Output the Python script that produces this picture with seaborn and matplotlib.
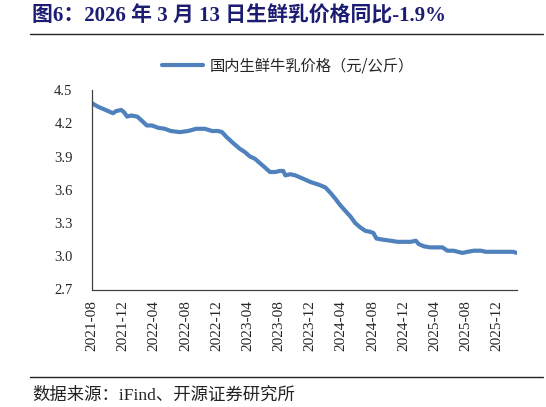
import matplotlib
matplotlib.use("Agg")
import matplotlib.pyplot as plt
import matplotlib.dates as mdates
from matplotlib.lines import Line2D
import seaborn as sns
import pandas as pd

# ---- data ----
dates = ["2021-08-01","2021-08-24","2021-09-13","2021-10-03","2021-10-22","2021-11-03","2021-11-23","2021-12-04","2021-12-16",
         "2022-01-01","2022-01-25","2022-02-13","2022-03-03","2022-03-23","2022-04-15","2022-05-12","2022-06-05","2022-07-10",
         "2022-08-11","2022-09-12","2022-10-16","2022-11-13","2022-12-07","2022-12-22",
         "2023-01-11","2023-02-04","2023-03-01","2023-03-21","2023-04-10","2023-04-29","2023-05-19","2023-06-08","2023-06-27",
         "2023-07-17","2023-08-06","2023-08-18","2023-08-26","2023-09-15","2023-10-04","2023-10-24","2023-11-13","2023-12-02","2023-12-29",
         "2024-01-10","2024-01-30","2024-02-19","2024-03-08","2024-03-28","2024-04-16","2024-05-06","2024-05-25","2024-06-14",
         "2024-07-03","2024-07-23","2024-08-04","2024-08-16","2024-09-09","2024-10-10","2024-11-07","2024-12-01","2024-12-28",
         "2025-01-17","2025-01-28","2025-02-17","2025-03-14","2025-04-11","2025-05-01","2025-05-20","2025-06-13","2025-07-18",
         "2025-08-07","2025-08-31","2025-09-28","2025-10-17","2025-11-13","2025-12-14",
         "2026-01-07","2026-01-31","2026-02-16"]
prices = [4.38,4.35,4.33,4.31,4.29,4.31,4.32,4.30,4.26,
          4.27,4.26,4.22,4.18,4.18,4.16,4.15,4.13,4.12,
          4.13,4.15,4.15,4.13,4.13,4.12,
          4.07,4.02,3.97,3.94,3.90,3.88,3.84,3.80,3.76,
          3.76,3.77,3.77,3.73,3.74,3.73,3.71,3.69,3.67,3.65,
          3.64,3.62,3.57,3.52,3.46,3.41,3.36,3.30,3.26,
          3.23,3.22,3.21,3.16,3.15,3.14,3.13,3.13,3.13,
          3.14,3.11,3.09,3.08,3.08,3.08,3.05,3.05,3.03,
          3.04,3.05,3.05,3.04,3.04,3.04,
          3.04,3.04,3.03]
series_name = "国内生鲜牛乳价格（元/公斤）"
title_text = "图6：2026 年 3 月 13 日生鲜乳价格同比-1.9%"
source_text = "数据来源：iFind、开源证券研究所"
y_ticks = [2.7, 3.0, 3.3, 3.6, 3.9, 4.2, 4.5]
x_tick_labels = ["2021-08","2021-12","2022-04","2022-08","2022-12","2023-04","2023-08",
                 "2023-12","2024-04","2024-08","2024-12","2025-04","2025-08","2025-12"]

df = pd.DataFrame({"date": pd.to_datetime(dates), "price": prices, "series": series_name})

sns.set_style("white")
plt.rcParams["font.family"] = ["Liberation Serif", "Noto Sans CJK SC", "DejaVu Sans"]

W, H = 546, 407
fig = plt.figure(figsize=(W / 100, H / 100), dpi=100)
ax = fig.add_axes([92 / W, 1 - 289.5 / H, (517 - 92) / W, (289.5 - 90) / H])

line_color = "#4F81BD"
sns.lineplot(data=df, x="date", y="price", ax=ax, color=line_color, linewidth=3.0, legend=False)

ax.set_ylim(2.7, 4.5)
ax.set_yticks(y_ticks)
ax.set_yticklabels([f"{v:.1f}" for v in y_ticks], fontsize=10.5)
tick_pos = pd.to_datetime([s + "-01" for s in x_tick_labels])
ax.set_xticks(tick_pos)
ax.set_xticklabels(x_tick_labels, rotation=90, fontsize=11)
ax.set_xlim(df["date"].min(), df["date"].max())
ax.set_xlabel("")
ax.set_ylabel("")

for s in ["top", "right"]:
    ax.spines[s].set_visible(False)
for s in ["left", "bottom"]:
    ax.spines[s].set_color("#404040")
    ax.spines[s].set_linewidth(0.9)
ax.tick_params(axis="y", direction="in", length=3, width=0.9, color="#404040", pad=14)
ax.tick_params(axis="x", direction="in", length=3, width=0.9, color="#404040", pad=8)

# legend
handle = Line2D([0], [0], color=line_color, linewidth=3.0)
fig.legend([handle], [series_name], loc="center", bbox_to_anchor=(288 / W, 1 - 66 / H),
           frameon=False, fontsize=11, handlelength=2.7, handletextpad=0.4,
           prop={"family": ["Noto Sans CJK SC", "Liberation Serif"], "size": 11})

# title
fig.text(32 / W, 1 - 16 / H, title_text, ha="left", va="center", fontsize=15,
         fontweight="bold", color="#1c1c72")
fig.add_artist(Line2D([30 / W, 543 / W], [1 - 34 / H, 1 - 34 / H], color="#222222", linewidth=1.0))

# footer
fig.add_artist(Line2D([30 / W, 543 / W], [1 - 377 / H, 1 - 377 / H], color="#222222", linewidth=1.0))
fig.text(32 / W, 1 - 396 / H, source_text, ha="left", va="center", fontsize=12.5, color="#222222")

fig.savefig("out.png", dpi=100)
